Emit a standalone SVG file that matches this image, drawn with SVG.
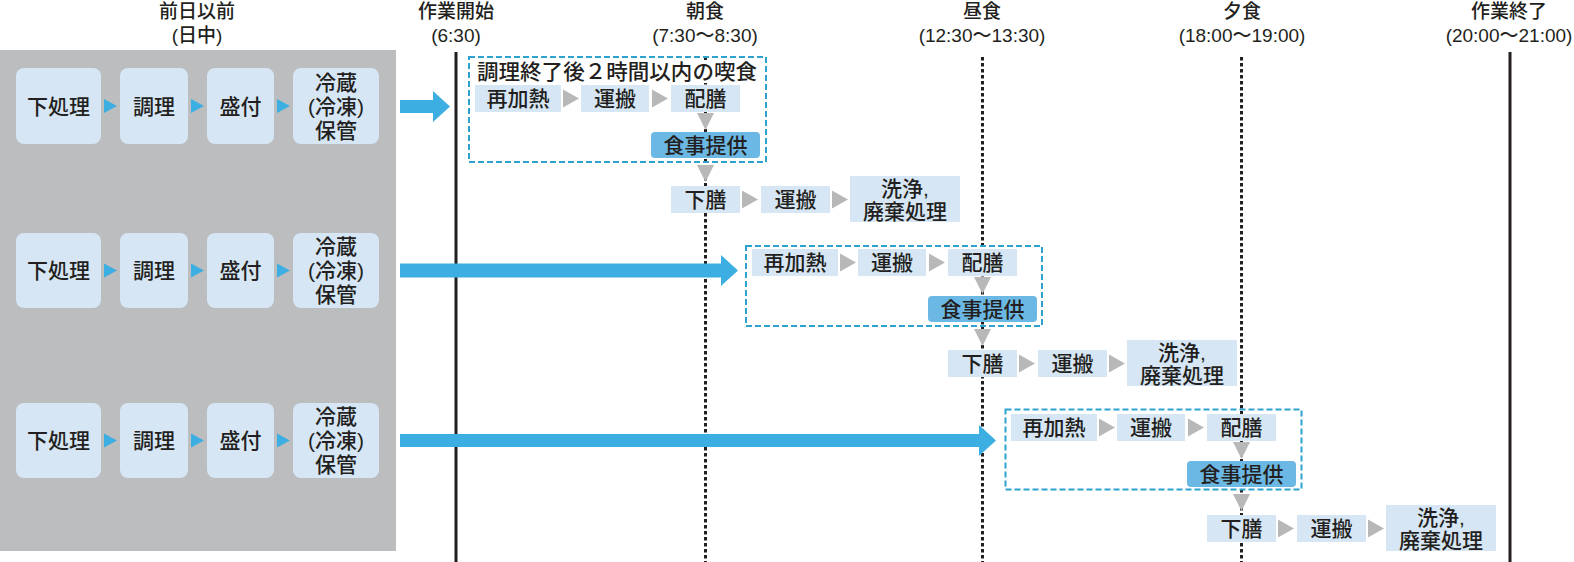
<svg xmlns="http://www.w3.org/2000/svg" width="1574" height="562" viewBox="0 0 1574 562">
<style>
text{font-family:"Liberation Sans","Noto Sans CJK JP",sans-serif;font-weight:500;fill:#231f20;text-anchor:middle;dominant-baseline:central}
.hd{font-size:19px}
.t{font-size:21px}
.panel{fill:#bcbdbf}
.lb{fill:#d6e6f4}
.pb{fill:#d6e6f4}
.serve{fill:#6cb8e4}
.btri{fill:#3daee2}
.gtri{fill:#b8b8b9}
.arrow{fill:#3daee2}
.dash{fill:none;stroke:#2fa3cf;stroke-width:2;stroke-dasharray:6 3}
.solid{stroke:#231f20;stroke-width:3}
.dot{stroke:#231f20;stroke-width:3;stroke-dasharray:3.5 2.5}
</style>
<rect class="panel" x="0" y="50" width="396" height="501"/>
<g id="headers">
<text class="hd" x="197" y="11">前日以前</text><text class="hd" x="197" y="35">(日中)</text>
<text class="hd" x="456" y="11">作業開始</text><text class="hd" x="456" y="35">(6:30)</text>
<text class="hd" x="705" y="11">朝食</text><text class="hd" x="705" y="35">(7:30〜8:30)</text>
<text class="hd" x="982" y="11">昼食</text><text class="hd" x="982" y="35">(12:30〜13:30)</text>
<text class="hd" x="1242" y="11">夕食</text><text class="hd" x="1242" y="35">(18:00〜19:00)</text>
<text class="hd" x="1509" y="11">作業終了</text><text class="hd" x="1509" y="35">(20:00〜21:00)</text>
</g>
<g id="timelines">
<line class="solid" x1="456" y1="52" x2="456" y2="562"/>
<line class="dot" x1="705.5" y1="57" x2="705.5" y2="562"/>
<line class="dot" x1="982.5" y1="57" x2="982.5" y2="562"/>
<line class="dot" x1="1241.5" y1="57" x2="1241.5" y2="562"/>
<line class="solid" x1="1510" y1="52" x2="1510" y2="562"/>
</g>
<g id="left-row1">
<g id="l1-a"><rect class="lb" x="16" y="68" width="85" height="76" rx="8"/><text class="t" x="58.5" y="106">下処理</text></g>
<g id="l1-b"><rect class="lb" x="120" y="68" width="68" height="76" rx="8"/><text class="t" x="154" y="106">調理</text></g>
<g id="l1-c"><rect class="lb" x="207" y="68" width="67" height="76" rx="8"/><text class="t" x="240.5" y="106">盛付</text></g>
<g id="l1-d"><rect class="lb" x="293" y="68" width="86" height="76" rx="8"/><text class="t" x="336" y="82">冷蔵</text><text class="t" x="336" y="106">(冷凍)</text><text class="t" x="336" y="130">保管</text></g>
</g>
<g id="left-row2">
<g id="l2-a"><rect class="lb" x="16" y="233" width="85" height="75" rx="8"/><text class="t" x="58.5" y="270.5">下処理</text></g>
<g id="l2-b"><rect class="lb" x="120" y="233" width="68" height="75" rx="8"/><text class="t" x="154" y="270.5">調理</text></g>
<g id="l2-c"><rect class="lb" x="207" y="233" width="67" height="75" rx="8"/><text class="t" x="240.5" y="270.5">盛付</text></g>
<g id="l2-d"><rect class="lb" x="293" y="233" width="86" height="75" rx="8"/><text class="t" x="336" y="246.5">冷蔵</text><text class="t" x="336" y="270.5">(冷凍)</text><text class="t" x="336" y="294.5">保管</text></g>
</g>
<g id="left-row3">
<g id="l3-a"><rect class="lb" x="16" y="403" width="85" height="75" rx="8"/><text class="t" x="58.5" y="440.5">下処理</text></g>
<g id="l3-b"><rect class="lb" x="120" y="403" width="68" height="75" rx="8"/><text class="t" x="154" y="440.5">調理</text></g>
<g id="l3-c"><rect class="lb" x="207" y="403" width="67" height="75" rx="8"/><text class="t" x="240.5" y="440.5">盛付</text></g>
<g id="l3-d"><rect class="lb" x="293" y="403" width="86" height="75" rx="8"/><text class="t" x="336" y="416.5">冷蔵</text><text class="t" x="336" y="440.5">(冷凍)</text><text class="t" x="336" y="464.5">保管</text></g>
</g>
<g id="row1">
<rect x="472" y="60" width="291" height="23" fill="#ffffff"/>
<rect class="dash" x="469" y="57" width="297" height="105"/>
<text class="t" x="617" y="71" textLength="280" lengthAdjust="spacingAndGlyphs">調理終了後２時間以内の喫食</text>
<g id="r1-reheat"><rect class="pb" x="475" y="85" width="86" height="27"/><text class="t" x="518" y="98.5">再加熱</text></g>
<g id="r1-carry"><rect class="pb" x="581" y="85" width="68" height="27"/><text class="t" x="615" y="98.5">運搬</text></g>
<g id="r1-serve"><rect class="pb" x="671" y="85" width="69" height="27"/><text class="t" x="705.5" y="98.5">配膳</text></g>
<g id="r1-meal"><rect class="serve" x="651" y="132" width="109" height="26" rx="4"/><text class="t" x="705.5" y="145">食事提供</text></g>
<g id="r1-clear"><rect class="pb" x="671" y="186" width="69" height="27"/><text class="t" x="705.5" y="199.5">下膳</text></g>
<g id="r1-carry2"><rect class="pb" x="761" y="186" width="69" height="27"/><text class="t" x="795.5" y="199.5">運搬</text></g>
<g id="r1-wash"><rect class="pb" x="850" y="176" width="110" height="46"/><text class="t" x="905" y="188">洗浄,</text><text class="t" x="905" y="211">廃棄処理</text></g>
</g>
<g id="row2">
<rect class="dash" x="746" y="246" width="296" height="80"/>
<g id="r2-reheat"><rect class="pb" x="752" y="249" width="86" height="27"/><text class="t" x="795" y="262.5">再加熱</text></g>
<g id="r2-carry"><rect class="pb" x="858" y="249" width="68" height="27"/><text class="t" x="892" y="262.5">運搬</text></g>
<g id="r2-serve"><rect class="pb" x="948" y="249" width="69" height="27"/><text class="t" x="982.5" y="262.5">配膳</text></g>
<g id="r2-meal"><rect class="serve" x="928" y="296" width="109" height="26" rx="4"/><text class="t" x="982.5" y="309">食事提供</text></g>
<g id="r2-clear"><rect class="pb" x="948" y="350" width="69" height="27"/><text class="t" x="982.5" y="363.5">下膳</text></g>
<g id="r2-carry2"><rect class="pb" x="1038" y="350" width="69" height="27"/><text class="t" x="1072.5" y="363.5">運搬</text></g>
<g id="r2-wash"><rect class="pb" x="1127" y="340" width="110" height="46"/><text class="t" x="1182" y="352">洗浄,</text><text class="t" x="1182" y="375">廃棄処理</text></g>
</g>
<g id="row3">
<rect class="dash" x="1005.5" y="409.5" width="296" height="80"/>
<g id="r3-reheat"><rect class="pb" x="1011" y="414" width="86" height="27"/><text class="t" x="1054" y="427.5">再加熱</text></g>
<g id="r3-carry"><rect class="pb" x="1117" y="414" width="68" height="27"/><text class="t" x="1151" y="427.5">運搬</text></g>
<g id="r3-serve"><rect class="pb" x="1207" y="414" width="69" height="27"/><text class="t" x="1241.5" y="427.5">配膳</text></g>
<g id="r3-meal"><rect class="serve" x="1187" y="461" width="109" height="26" rx="4"/><text class="t" x="1241.5" y="474">食事提供</text></g>
<g id="r3-clear"><rect class="pb" x="1207" y="515" width="69" height="27"/><text class="t" x="1241.5" y="528.5">下膳</text></g>
<g id="r3-carry2"><rect class="pb" x="1297" y="515" width="69" height="27"/><text class="t" x="1331.5" y="528.5">運搬</text></g>
<g id="r3-wash"><rect class="pb" x="1386" y="505" width="110" height="46"/><text class="t" x="1441" y="517">洗浄,</text><text class="t" x="1441" y="540">廃棄処理</text></g>
</g>
<g id="connectors">
<polygon class="btri" points="104,99 117,106 104,113"/>
<polygon class="btri" points="191,99 204,106 191,113"/>
<polygon class="btri" points="277,99 290,106 277,113"/>
<polygon class="btri" points="104,263.5 117,270.5 104,277.5"/>
<polygon class="btri" points="191,263.5 204,270.5 191,277.5"/>
<polygon class="btri" points="277,263.5 290,270.5 277,277.5"/>
<polygon class="btri" points="104,433.5 117,440.5 104,447.5"/>
<polygon class="btri" points="191,433.5 204,440.5 191,447.5"/>
<polygon class="btri" points="277,433.5 290,440.5 277,447.5"/>
<polygon class="arrow" points="400,100 433,100 433,91 450,106.5 433,122 433,113 400,113"/>
<polygon class="arrow" points="400,263.5 721,263.5 721,255 738,270.5 721,286 721,277.5 400,277.5"/>
<polygon class="arrow" points="400,434 979,434 979,425 996,440.5 979,456 979,447 400,447"/>
<g id="row1-conn">
<polygon class="gtri" points="563,89.5 579,98.5 563,107.5"/>
<polygon class="gtri" points="652,89.5 668,98.5 652,107.5"/>
<polygon class="gtri" points="697,113 714,113 705.5,130"/>
<polygon class="gtri" points="697,165 714,165 705.5,182"/>
<polygon class="gtri" points="742,190.5 758,199.5 742,208.5"/>
<polygon class="gtri" points="832,190.5 848,199.5 832,208.5"/>
</g>
<g id="row2-conn">
<polygon class="gtri" points="840,253.5 856,262.5 840,271.5"/>
<polygon class="gtri" points="929,253.5 945,262.5 929,271.5"/>
<polygon class="gtri" points="974,277 991,277 982.5,294"/>
<polygon class="gtri" points="974,329 991,329 982.5,346"/>
<polygon class="gtri" points="1019,354.5 1035,363.5 1019,372.5"/>
<polygon class="gtri" points="1109,354.5 1125,363.5 1109,372.5"/>
</g>
<g id="row3-conn">
<polygon class="gtri" points="1099,418.5 1115,427.5 1099,436.5"/>
<polygon class="gtri" points="1188,418.5 1204,427.5 1188,436.5"/>
<polygon class="gtri" points="1233,442 1250,442 1241.5,459"/>
<polygon class="gtri" points="1233,494 1250,494 1241.5,511"/>
<polygon class="gtri" points="1278,519.5 1294,528.5 1278,537.5"/>
<polygon class="gtri" points="1368,519.5 1384,528.5 1368,537.5"/>
</g>
</g>
</svg>
